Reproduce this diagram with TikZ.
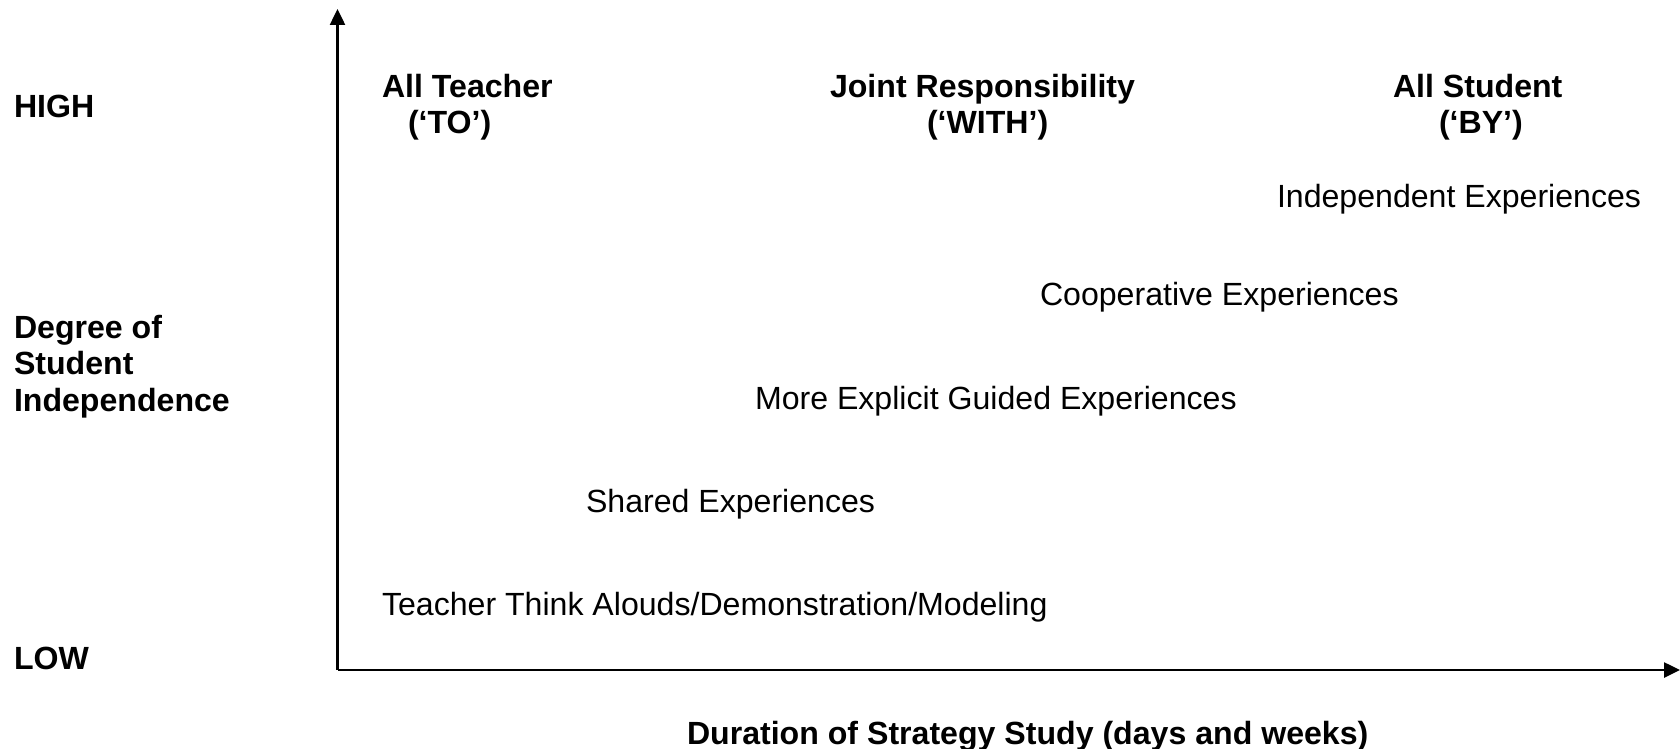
\documentclass[tikz,border=0pt]{standalone}
\usepackage{fontspec}
\setmainfont{Liberation Sans}
\usetikzlibrary{arrows.meta}
\begin{document}
\begin{tikzpicture}[x=1pt,y=-1pt,
  txt/.style={inner sep=0pt,outer sep=0pt,anchor=base west,font=\fontsize{32.1pt}{36.3pt}\selectfont},
  btxt/.style={txt,font=\fontsize{32.1pt}{36.3pt}\selectfont\bfseries},
  axis/.style={line width=2.5pt,-{Triangle[length=16pt,width=15pt]}}]
\useasboundingbox (0,0) rectangle (1680,749);
\coordinate (o) at (337.5,670);
\coordinate (ytop) at (337.5,9);
\coordinate (xend) at (1680,670);
\draw[axis] (o) -- (ytop);
\draw[axis] (o) -- (xend);
\node[btxt] (high) at (14,117.5) {HIGH};
\node[btxt] (low) at (14,669.5) {LOW};
\node[btxt,align=left,anchor=base west] (deg) at (14,411) {Degree of\\Student\\Independence};
\node[btxt] (allt) at (382,97.5) {All Teacher};
\node[btxt] (to) at (408,133.5) {(‘TO’)};
\node[btxt] (joint) at (830,97.5) {Joint Responsibility};
\node[btxt] (with) at (927,133.5) {(‘WITH’)};
\node[btxt] (alls) at (1393,97.5) {All Student};
\node[btxt] (by) at (1439,133.5) {(‘BY’)};
\node[txt] (ind) at (1277,207.5) {Independent Experiences};
\node[txt] (coop) at (1040,305.5) {Cooperative Experiences};
\node[txt] (guid) at (755,409.5) {More Explicit Guided Experiences};
\node[txt] (shar) at (586,512.5) {Shared Experiences};
\node[txt] (tta) at (382,615) {Teacher Think Alouds/Demonstration/Modeling};
\node[btxt] (dur) at (687,744) {Duration of Strategy Study (days and weeks)};
\end{tikzpicture}
\end{document}
